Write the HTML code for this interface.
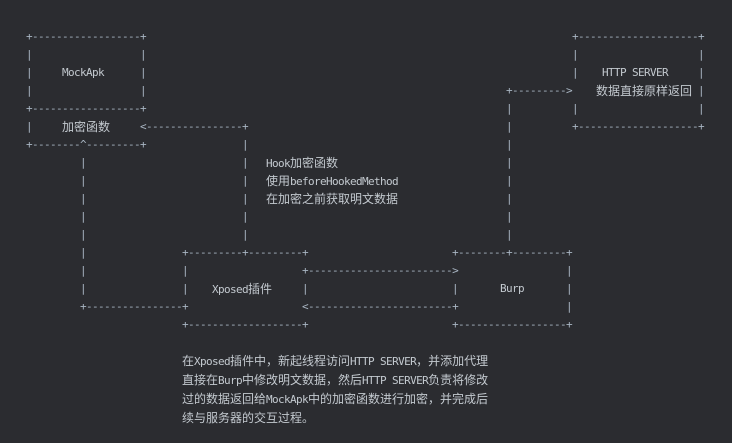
<!DOCTYPE html>
<html><head><meta charset="utf-8"><style>
html,body{margin:0;padding:0}
body{width:732px;height:443px;background:#2b2c30;position:relative;overflow:hidden}
i{position:absolute;font-style:normal;white-space:pre;font:11px/18px "DejaVu Sans Mono","Liberation Mono",monospace;letter-spacing:-0.62px;color:#a9b6c3;height:18px}
i.w{color:#c3c9cf}
b{font-weight:normal;font-family:"Noto Sans CJK SC","WenQuanYi Zen Hei",sans-serif;font-size:12px;letter-spacing:0}
</style></head><body>
<i style="left:26px;top:28px">+------------------+</i>
<i style="left:572px;top:28px">+--------------------+</i>
<i style="left:26px;top:46px">|</i><i style="left:140px;top:46px">|</i>
<i style="left:572px;top:46px">|</i><i style="left:698px;top:46px">|</i>
<i style="left:26px;top:64px">|</i><i class="w" style="left:62px;top:64px">MockApk</i><i style="left:140px;top:64px">|</i>
<i style="left:572px;top:64px">|</i><i class="w" style="left:602px;top:64px">HTTP SERVER</i><i style="left:698px;top:64px">|</i>
<i style="left:26px;top:82px">|</i><i style="left:140px;top:82px">|</i>
<i style="left:506px;top:82px">+---------&gt;</i>
<i class="w" style="left:596px;top:82px"><b>数据直接原样返回</b></i>
<i style="left:698px;top:82px">|</i>
<i style="left:26px;top:100px">+------------------+</i>
<i style="left:506px;top:100px">|</i><i style="left:572px;top:100px">|</i><i style="left:698px;top:100px">|</i>
<i style="left:26px;top:118px">|</i><i class="w" style="left:62px;top:118px"><b>加密函数</b></i>
<i style="left:140px;top:118px">&lt;----------------+</i>
<i style="left:506px;top:118px">|</i>
<i style="left:572px;top:118px">+--------------------+</i>
<i style="left:26px;top:136px">+--------^---------+</i>
<i style="left:242px;top:136px">|</i><i style="left:506px;top:136px">|</i>
<i style="left:80px;top:154px">|</i><i style="left:242px;top:154px">|</i>
<i class="w" style="left:266px;top:154px">Hook<b>加密函数</b></i>
<i style="left:506px;top:154px">|</i>
<i style="left:80px;top:172px">|</i><i style="left:242px;top:172px">|</i>
<i class="w" style="left:266px;top:172px"><b>使用</b>beforeHookedMethod</i>
<i style="left:506px;top:172px">|</i>
<i style="left:80px;top:190px">|</i><i style="left:242px;top:190px">|</i>
<i class="w" style="left:266px;top:190px"><b>在加密之前获取明文数据</b></i>
<i style="left:506px;top:190px">|</i>
<i style="left:80px;top:208px">|</i><i style="left:242px;top:208px">|</i><i style="left:506px;top:208px">|</i>
<i style="left:80px;top:226px">|</i><i style="left:242px;top:226px">|</i><i style="left:506px;top:226px">|</i>
<i style="left:80px;top:244px">|</i>
<i style="left:182px;top:244px">+---------+---------+</i>
<i style="left:452px;top:244px">+--------+---------+</i>
<i style="left:80px;top:262px">|</i><i style="left:182px;top:262px">|</i>
<i style="left:302px;top:262px">+------------------------&gt;</i>
<i style="left:566px;top:262px">|</i>
<i style="left:80px;top:280px">|</i><i style="left:182px;top:280px">|</i>
<i class="w" style="left:212px;top:280px">Xposed<b>插件</b></i>
<i style="left:302px;top:280px">|</i><i style="left:452px;top:280px">|</i>
<i class="w" style="left:500px;top:280px">Burp</i>
<i style="left:566px;top:280px">|</i>
<i style="left:80px;top:298px">+----------------+</i>
<i style="left:302px;top:298px">&lt;------------------------+</i>
<i style="left:566px;top:298px">|</i>
<i style="left:182px;top:316px">+-------------------+</i>
<i style="left:452px;top:316px">+------------------+</i>
<i class="w" style="left:182px;top:352px"><b>在</b>Xposed<b>插件中，新起线程访问</b>HTTP SERVER<b>，并添加代理</b></i>
<i class="w" style="left:182px;top:371px"><b>直接在</b>Burp<b>中修改明文数据，然后</b>HTTP SERVER<b>负责将修改</b></i>
<i class="w" style="left:182px;top:390px"><b>过的数据返回给</b>MockApk<b>中的加密函数进行加密，并完成后</b></i>
<i class="w" style="left:182px;top:409px"><b>续与服务器的交互过程。</b></i>
</body></html>
